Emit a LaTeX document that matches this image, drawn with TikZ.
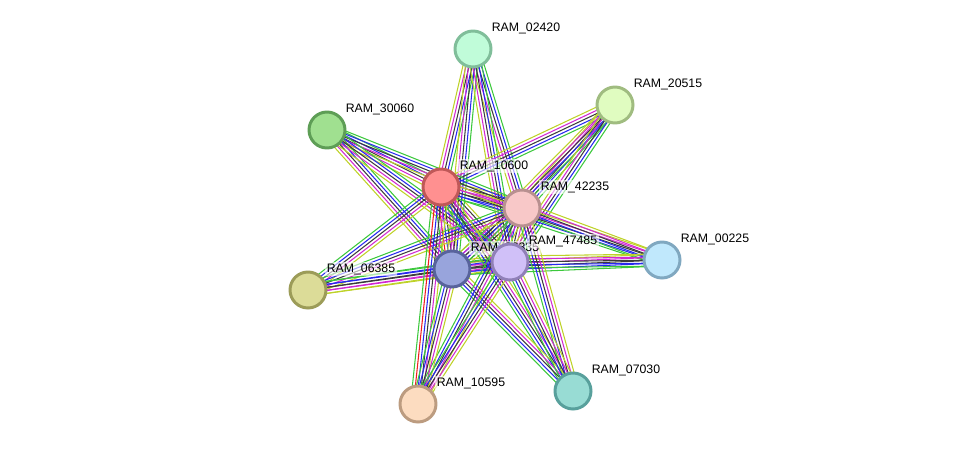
\documentclass[tikz,border=0pt]{standalone}
\usepackage{fontspec}
\setmainfont{Liberation Sans}
\usetikzlibrary{calc}

\definecolor{lgreen}{RGB}{60,200,60}
\definecolor{lblue}{RGB}{40,40,240}
\definecolor{lblack}{RGB}{60,60,60}
\definecolor{lmag}{RGB}{210,40,210}
\definecolor{lyel}{RGB}{190,210,40}
\definecolor{lred}{RGB}{240,30,30}

\pgfdeclarelayer{edges}
\pgfdeclarelayer{labels}
\pgfsetlayers{edges,labels,main}

\newcommand{\lsep}{0.06cm}
% one bundle of parallel evidence lines between two proteins
\newcommand{\strlink}[3]{%
  \foreach \c [count=\k] in {#3} {\xdef\nlines{\k}}%
  \foreach \c [count=\i] in {#3} {
    \draw[link,\c] ($(#1.center)!{(\i-(\nlines+1)/2)*\lsep}!90:(#2.center)$)
      -- ($(#2.center)!{(\i-(\nlines+1)/2)*\lsep}!-90:(#1.center)$);
  }%
}

\begin{document}
\begin{tikzpicture}[
    x=0.02cm, y=-0.02cm,
    font=\fontsize{7pt}{8pt}\selectfont,
    prot/.style={circle, line width=1.7pt, minimum size=0.72cm, inner sep=0pt},
    lbl/.style={anchor=west, inner sep=0.8pt, fill=white, fill opacity=0.6, text opacity=1},
    link/.style={line width=0.6pt}
    ]

\useasboundingbox (0,0) rectangle (975,450);

% proteins
\node[prot, fill={rgb,255:red,192;green,252;blue,217}, draw={rgb,255:red,128;green,190;blue,154}] (n02420) at (473,49) {};
\node[prot, fill={rgb,255:red,224;green,252;blue,192}, draw={rgb,255:red,160;green,188;blue,128}] (n20515) at (615,105) {};
\node[prot, fill={rgb,255:red,160;green,224;blue,144}, draw={rgb,255:red,94;green,158;blue,86}] (n30060) at (327,130) {};
\node[prot, fill={rgb,255:red,255;green,144;blue,144}, draw={rgb,255:red,192;green,88;blue,88}] (n10600) at (441,187) {};
\node[prot, fill={rgb,255:red,248;green,200;blue,200}, draw={rgb,255:red,184;green,144;blue,144}] (n42235) at (522,208) {};
\node[prot, fill={rgb,255:red,192;green,232;blue,252}, draw={rgb,255:red,128;green,168;blue,192}] (n00225) at (662,260) {};
\node[prot, fill={rgb,255:red,220;green,220;blue,152}, draw={rgb,255:red,156;green,156;blue,88}] (n06385) at (308,290) {};
\node[prot, fill={rgb,255:red,152;green,164;blue,220}, draw={rgb,255:red,88;green,99;blue,156}] (n06335) at (452,269) {};
\node[prot, fill={rgb,255:red,208;green,192;blue,248}, draw={rgb,255:red,144;green,128;blue,184}] (n47485) at (510,262) {};
\node[prot, fill={rgb,255:red,252;green,220;blue,192}, draw={rgb,255:red,188;green,156;blue,128}] (n10595) at (418,404) {};
\node[prot, fill={rgb,255:red,152;green,220;blue,212}, draw={rgb,255:red,88;green,160;blue,156}] (n07030) at (573,391) {};

% names
\begin{pgfonlayer}{labels}
\foreach \p in {02420,20515,30060,10600,42235,00225,06385,06335,47485,10595,07030}
  \node[lbl] (l\p) at ([shift={(17,-21)}]n\p.center) {RAM\_\p};
\end{pgfonlayer}

% evidence lines
\begin{pgfonlayer}{edges}
\strlink{n10600}{n42235}{lgreen,lblue,lblack,lmag,lblack,lyel}
\strlink{n10600}{n06335}{lgreen,lred,lblue,lblack,lmag,lyel}
\strlink{n10600}{n47485}{lgreen,lblue,lblack,lmag,lblack,lyel}
\strlink{n42235}{n06335}{lgreen,lblue,lblack,lmag,lblack,lyel}
\strlink{n42235}{n47485}{lgreen,lblue,lblack,lmag,lyel}
\strlink{n06335}{n47485}{lgreen,lblue,lblack,lmag,lblack,lyel}
\foreach \o in {02420,20515,30060,00225,06385,07030}
  \foreach \h in {10600,42235,06335,47485}
    {\strlink{n\h}{n\o}{lgreen,lblue,lblack,lmag,lyel}}
\strlink{n10600}{n10595}{lgreen,lred,lblue,lblack,lmag,lyel}
\strlink{n42235}{n10595}{lgreen,lblue,lblack,lmag,lyel}
\strlink{n06335}{n10595}{lgreen,lblue,lblack,lmag,lyel}
\strlink{n47485}{n10595}{lgreen,lblue,lblack,lmag,lyel}
\end{pgfonlayer}

\end{tikzpicture}
\end{document}
